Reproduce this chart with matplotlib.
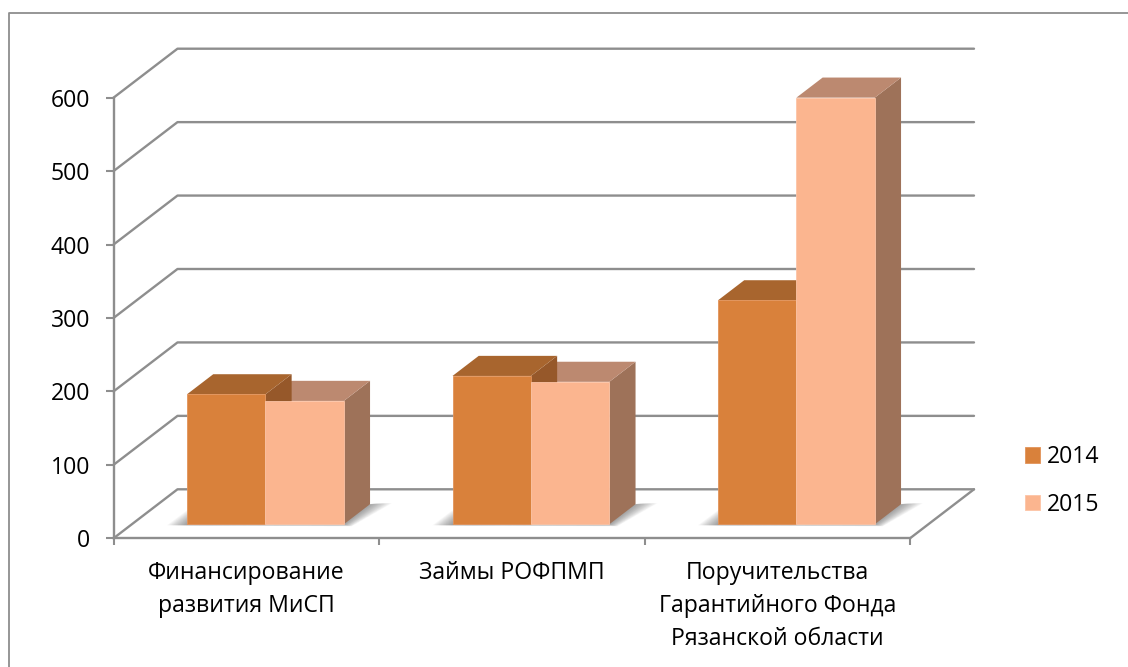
import matplotlib
matplotlib.use('Agg')
import matplotlib.pyplot as plt
from matplotlib.patches import Polygon
from matplotlib.lines import Line2D

plt.rcParams['font.family'] = ['Open Sans', 'DejaVu Sans']

categories = ['Финансирование\nразвития МиСП', 'Займы РОФПМП',
              'Поручительства\nГарантийного Фонда\nРязанской области']
years = ['2014', '2015']
values_2014 = [177, 202, 305]
values_2015 = [168, 194, 581]
y_ticks = [0, 100, 200, 300, 400, 500, 600]

W, H = 1128, 667
LEFT, RIGHT, TOP, BOTTOM = 113.5, 910, 97.7, 538.3

GRID = '#8e8e8e'
FRONT = ['#d9813b', '#fbb58f']
EDGE = ['#e2935a', '#fcc4a6']
ROOF = ['#a8652e', '#bc8970']
SIDE = ['#96582a', '#9e7259']
FONT = 16.6

fig = plt.figure(figsize=(W / 100, H / 100), dpi=100)
ax = fig.add_axes([LEFT / W, 1 - BOTTOM / H, (RIGHT - LEFT) / W, (BOTTOM - TOP) / H])
ax.set_xlim(0, 3)
ax.set_ylim(0, 600)
ax.patch.set_alpha(0)

# 1 category = 265.5 px, 100 units = 73.4 px
px_x = 3 / (RIGHT - LEFT)
px_y = 600 / (BOTTOM - TOP)
wall_dx = 64 * px_x
wall_dy = 49 * px_y
front_frac = 0.286
depth_frac = 0.41
bar_dx = wall_dx * depth_frac
bar_dy = wall_dy * depth_frac
base_x = wall_dx * front_frac
base_y = wall_dy * front_frac
bar_w = 78.4 * px_x
gap = 55.2 * px_x


def line(xs, ys):
    ax.plot(xs, ys, color=GRID, lw=1.7, zorder=1, clip_on=False,
            solid_capstyle='round')


# walls and floor
for t in y_ticks:
    line([0, wall_dx, 3 + wall_dx], [t, t + wall_dy, t + wall_dy])
line([3, 3 + wall_dx], [0, wall_dy])

# soft shadow on the floor, nested polygons getting darker towards the bar
steps = 16
for n in range(steps):
    e = 1 - n / steps
    for i in range(len(categories)):
        x0 = i + gap + base_x
        x1 = x0 + 2 * bar_w
        y0 = base_y
        shadow = [(x0 - 20 * e * px_x, y0 - 1 * px_y),
                  (x0, y0 + 14 * e * px_y),
                  (x1 + bar_dx, y0 + bar_dy),
                  (x1 + bar_dx + 22 * e * px_x, y0 + bar_dy + 1 * px_y),
                  (x1 + 8 * e * px_x, y0 - 2 * e * px_y)]
        ax.add_patch(Polygon(shadow, closed=True, facecolor='#555555', alpha=0.045,
                             edgecolor='none', zorder=2, clip_on=False))

# bars, 2015 first so the roof of 2014 sits in front of it
series = [values_2014, values_2015]
handles = []
for s in [1, 0]:
    z = 3 if s == 1 else 4
    for i, v in enumerate(series[s]):
        x0 = i + gap + base_x + s * bar_w
        x1 = x0 + bar_w
        top = base_y + v
        ax.add_patch(Polygon([(x1, base_y), (x1 + bar_dx, base_y + bar_dy),
                              (x1 + bar_dx, top + bar_dy), (x1, top)], closed=True,
                             facecolor=SIDE[s], edgecolor='none', zorder=z, clip_on=False))
        ax.add_patch(Polygon([(x0, top), (x0 + bar_dx, top + bar_dy),
                              (x1 + bar_dx, top + bar_dy), (x1, top)], closed=True,
                             facecolor=ROOF[s], edgecolor='none', zorder=z, clip_on=False))
    xs = [i + gap + base_x + s * bar_w for i in range(len(categories))]
    b = ax.bar(xs, series[s], width=bar_w, bottom=base_y, align='edge',
               color=FRONT[s], edgecolor=EDGE[s], linewidth=0.6,
               zorder=5 if s == 1 else 4.5, clip_on=False, label=years[s])
    handles.insert(0, b)

# axes
for name in ['top', 'right']:
    ax.spines[name].set_visible(False)
for name in ['left', 'bottom']:
    ax.spines[name].set_color(GRID)
    ax.spines[name].set_linewidth(1.7)
    ax.spines[name].set_zorder(6)

ax.set_yticks(y_ticks)
ax.tick_params(axis='y', length=6, width=1.5, color=GRID, pad=11, labelsize=FONT)
ax.set_xticks([0, 1, 2, 3])
ax.set_xticklabels([])
ax.tick_params(axis='x', which='major', length=5, width=1.5, color=GRID)
ax.set_xticks([0.5, 1.5, 2.5], minor=True)
ax.set_xticklabels(categories, minor=True, linespacing=1.5)
ax.tick_params(axis='x', which='minor', length=0, pad=16.5, labelsize=FONT)

ax.legend(handles=handles, labels=years, loc='center left', frameon=False,
          bbox_to_anchor=(1025 / W, 1 - 481 / H), bbox_transform=fig.transFigure,
          fontsize=FONT, handlelength=0.65, handleheight=0.65, handletextpad=0.32,
          labelspacing=1.03, borderpad=0, borderaxespad=0)

# chart frame: only the top and left edges are inside the picture
fig.add_artist(Line2D([1, 9 / W, 9 / W], [1 - 12.7 / H, 1 - 12.7 / H, 0],
                      transform=fig.transFigure, color=GRID, lw=1.3))

fig.savefig('out.png', dpi=100)
